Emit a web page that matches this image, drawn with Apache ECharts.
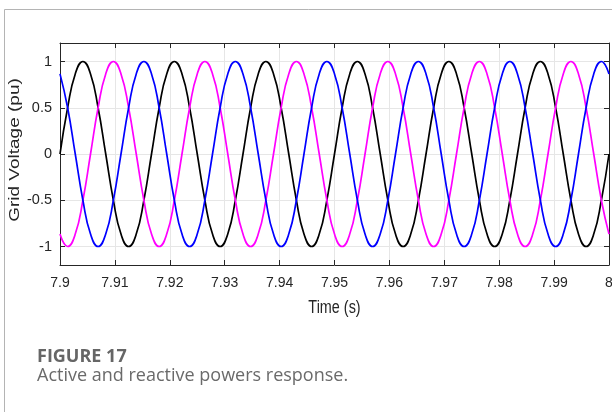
<!DOCTYPE html>
<html>
<head>
<meta charset="utf-8">
<script src="https://cdn.jsdelivr.net/npm/echarts@6/dist/echarts.min.js"></script>
<style>
  html, body { margin: 0; padding: 0; background: #fff; }
  #chart { width: 612px; height: 412px; }
</style>
</head>
<body>
<div id="chart"></div>
<script>
// Sample times (s), one point every 1/720 s across 7.9 - 8.0 s
const time = [
  7.90000, 7.90139, 7.90278, 7.90417, 7.90556, 7.90694, 7.90833, 7.90972, 7.91111, 7.91250, 7.91389, 7.91528,
  7.91667, 7.91806, 7.91944, 7.92083, 7.92222, 7.92361, 7.92500, 7.92639, 7.92778, 7.92917, 7.93056, 7.93194,
  7.93333, 7.93472, 7.93611, 7.93750, 7.93889, 7.94028, 7.94167, 7.94306, 7.94444, 7.94583, 7.94722, 7.94861,
  7.95000, 7.95139, 7.95278, 7.95417, 7.95556, 7.95694, 7.95833, 7.95972, 7.96111, 7.96250, 7.96389, 7.96528,
  7.96667, 7.96806, 7.96944, 7.97083, 7.97222, 7.97361, 7.97500, 7.97639, 7.97778, 7.97917, 7.98056, 7.98194,
  7.98333, 7.98472, 7.98611, 7.98750, 7.98889, 7.99028, 7.99167, 7.99306, 7.99444, 7.99583, 7.99722, 7.99861,
  8.00000
];

// Phase a (black), pu
const phaseA = [
  0, 0.5, 0.866, 1, 0.866, 0.5, 0, -0.5, -0.866, -1, -0.866, -0.5,
  0, 0.5, 0.866, 1, 0.866, 0.5, 0, -0.5, -0.866, -1, -0.866, -0.5,
  0, 0.5, 0.866, 1, 0.866, 0.5, 0, -0.5, -0.866, -1, -0.866, -0.5,
  0, 0.5, 0.866, 1, 0.866, 0.5, 0, -0.5, -0.866, -1, -0.866, -0.5,
  0, 0.5, 0.866, 1, 0.866, 0.5, 0, -0.5, -0.866, -1, -0.866, -0.5,
  0, 0.5, 0.866, 1, 0.866, 0.5, 0, -0.5, -0.866, -1, -0.866, -0.5,
  0
];

// Phase b (magenta), pu
const phaseB = [
  -0.866, -1, -0.866, -0.5, 0, 0.5, 0.866, 1, 0.866, 0.5, 0, -0.5,
  -0.866, -1, -0.866, -0.5, 0, 0.5, 0.866, 1, 0.866, 0.5, 0, -0.5,
  -0.866, -1, -0.866, -0.5, 0, 0.5, 0.866, 1, 0.866, 0.5, 0, -0.5,
  -0.866, -1, -0.866, -0.5, 0, 0.5, 0.866, 1, 0.866, 0.5, 0, -0.5,
  -0.866, -1, -0.866, -0.5, 0, 0.5, 0.866, 1, 0.866, 0.5, 0, -0.5,
  -0.866, -1, -0.866, -0.5, 0, 0.5, 0.866, 1, 0.866, 0.5, 0, -0.5,
  -0.866
];

// Phase c (blue), pu
const phaseC = [
  0.866, 0.5, 0, -0.5, -0.866, -1, -0.866, -0.5, 0, 0.5, 0.866, 1,
  0.866, 0.5, 0, -0.5, -0.866, -1, -0.866, -0.5, 0, 0.5, 0.866, 1,
  0.866, 0.5, 0, -0.5, -0.866, -1, -0.866, -0.5, 0, 0.5, 0.866, 1,
  0.866, 0.5, 0, -0.5, -0.866, -1, -0.866, -0.5, 0, 0.5, 0.866, 1,
  0.866, 0.5, 0, -0.5, -0.866, -1, -0.866, -0.5, 0, 0.5, 0.866, 1,
  0.866, 0.5, 0, -0.5, -0.866, -1, -0.866, -0.5, 0, 0.5, 0.866, 1,
  0.866
];

// Y-axis tick values
const yTicks = [-1, -0.5, 0, 0.5, 1];

const pair = (vals) => time.map((t, i) => [t, vals[i]]);

const axisColor = '#262626';
const sans = '"Liberation Sans", Arial, sans-serif';

const chart = echarts.init(document.getElementById('chart'), null, { renderer: 'canvas' });

const tickStyle = { inside: true, length: 5, lineStyle: { color: axisColor, width: 1 } };
const lineStyleAxis = { show: true, onZero: false, lineStyle: { color: axisColor, width: 1 } };

const option = {
  animation: false,
  backgroundColor: '#ffffff',
  grid: { left: 60, top: 43, right: 3, bottom: 147, containLabel: false, outerBoundsMode: 'none' },
  xAxis: [
    {
      type: 'value', min: 7.9, max: 8, interval: 0.01, position: 'bottom',
      axisLine: lineStyleAxis,
      axisTick: tickStyle,
      axisLabel: {
        color: axisColor, fontSize: 14, fontFamily: sans, margin: 11,
        formatter: (v) => String(+v.toFixed(2))
      },
      splitLine: { show: true, lineStyle: { color: '#e6e6e6', width: 1 } }
    },
    {
      type: 'value', min: 7.9, max: 8, interval: 0.01, position: 'top',
      axisLine: lineStyleAxis,
      axisTick: tickStyle,
      axisLabel: { show: false },
      splitLine: { show: false }
    }
  ],
  yAxis: [
    {
      type: 'value', min: -1.2, max: 1.2, position: 'left',
      axisLine: lineStyleAxis,
      axisTick: Object.assign({ customValues: yTicks }, tickStyle),
      axisLabel: {
        customValues: yTicks, color: axisColor, fontSize: 14.5, fontFamily: sans, margin: 8,
        formatter: (v) => String(v)
      },
      splitLine: { show: true, lineStyle: { color: '#e6e6e6', width: 1 } }
    },
    {
      type: 'value', min: -1.2, max: 1.2, position: 'right',
      axisLine: lineStyleAxis,
      axisTick: Object.assign({ customValues: yTicks }, tickStyle),
      axisLabel: { show: false },
      splitLine: { show: false }
    }
  ],
  series: [
    {
      name: 'Phase a', type: 'line', data: pair(phaseA), smooth: true, showSymbol: false,
      xAxisIndex: 0, yAxisIndex: 0, lineStyle: { color: '#000000', width: 1.7 }, z: 3
    },
    {
      name: 'Phase b', type: 'line', data: pair(phaseB), smooth: true, showSymbol: false,
      xAxisIndex: 0, yAxisIndex: 0, lineStyle: { color: '#ff00ff', width: 1.7 }, z: 3
    },
    {
      name: 'Phase c', type: 'line', data: pair(phaseC), smooth: true, showSymbol: false,
      xAxisIndex: 0, yAxisIndex: 0, lineStyle: { color: '#0000ff', width: 1.7 }, z: 3
    }
  ],
  graphic: [
    { type: 'line', shape: { x1: 4.5, y1: 9.5, x2: 612, y2: 9.5 }, style: { stroke: '#b4b4b4', lineWidth: 1 }, silent: true },
    { type: 'line', shape: { x1: 4.5, y1: 9.5, x2: 4.5, y2: 412 }, style: { stroke: '#b4b4b4', lineWidth: 1 }, silent: true },
    // axis titles, set in a slightly condensed face
    {
      type: 'text', x: 334.5, y: 308, scaleX: 0.8, scaleY: 1, silent: true,
      style: {
        text: 'Time (s)', fill: axisColor, font: '18px ' + sans,
        align: 'center', verticalAlign: 'middle'
      }
    },
    {
      type: 'text', x: 15, y: 150, rotation: Math.PI / 2, scaleX: 1, scaleY: 0.78, silent: true,
      style: {
        text: 'Grid Voltage (pu)', fill: axisColor, font: '19px ' + sans,
        align: 'center', verticalAlign: 'middle'
      }
    },
    {
      type: 'text', left: 37, top: 348, silent: true,
      style: { text: 'FIGURE 17', fill: '#666666', font: 'bold 18px "Open Sans", sans-serif' }
    },
    {
      type: 'text', left: 37, top: 367, silent: true,
      style: { text: 'Active and reactive powers response.', fill: '#6a6a6a', font: '18px "Open Sans", sans-serif' }
    }
  ]
};

chart.setOption(option);
</script>
</body>
</html>
